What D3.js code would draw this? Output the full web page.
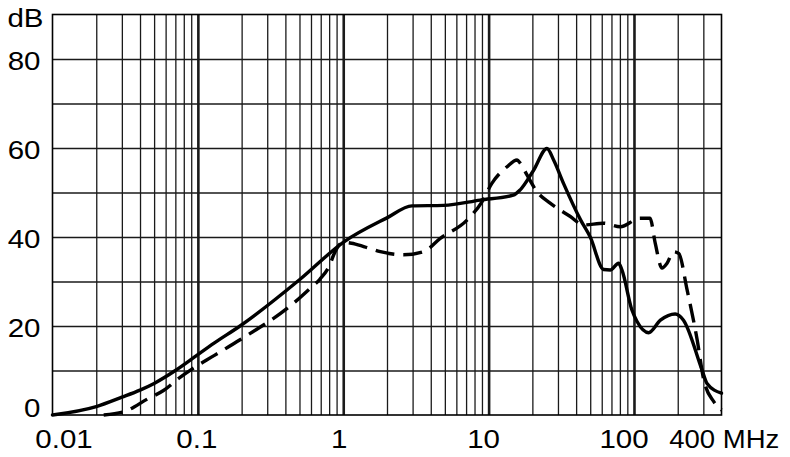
<!DOCTYPE html>
<html><head><meta charset="utf-8">
<script src="https://cdn.jsdelivr.net/npm/d3@7"></script>
<style>
body{margin:0;background:#fff}
svg{display:block}
text{font-family:"Liberation Sans",Arial,Helvetica,sans-serif;font-size:25px;fill:#000}
</style></head>
<body><svg id="c" width="790" height="457"></svg>
<script>
// ---- data ----
const solidF  = [0.01,0.02,0.03,0.04,0.05,0.07,0.09,0.13,0.195,0.505,1.0,2.0,2.97,4.9,8.75,14.8,16.5,20.4,25.2,28,32.8,43,50,61.8,68.7,78.4,82.6,96.8,105,126,152,192,219,294,318,400];
const solidDB = [0,1.9,4.0,5.6,7.1,10,12.5,16.2,20,30.5,38.8,44.3,47,47.1,48.3,49.4,50.6,55,59.9,57.3,52,43.8,40,32.7,32.6,34.1,32.6,23.6,21,18.5,21.3,22.7,21.3,10.1,7.1,4.9];
const dashF   = [0.0225,0.032,0.045,0.058,0.075,0.09,0.13,0.195,0.454,0.607,0.69,0.81,0.86,1.0,1.14,1.4,1.8,2.6,3.57,4.65,7.1,9,10.5,13.4,15.7,16.5,18.4,21.5,26.5,36.5,45,61.8,80.5,110,129,140,156,169,187,203,232,272,302,354,400];
const dashDB  = [0,0.9,3.6,5.5,8.4,10.2,13.4,16.9,25.1,28.8,30.5,33.8,36,38.8,38.6,37.8,36.7,36,36.7,39.7,43.8,47.9,52,55.8,57.3,56.6,53.9,50.2,47.6,44.6,42.7,43.1,42.3,44.2,44.2,38.6,33,34.1,36.7,36.3,28.1,16.9,7.9,3,1.1];
const yTicks = [0,20,40,60,80];
const yTickLabels = ["0","20","40","60","80"];
const xTicks = [0.01,0.1,1,10,100];
const xTickLabels = ["0.01","0.1","1","10","100"];
const xEndTick = 400;
const xEndLabel = "400 MHz";
const yUnit = "dB";
const xDomain = [0.01,400];
const yDomain = [0,90];

// ---- layout ----
const L=52.5,R=721.5,T=14.5,B=415;
const x=d3.scaleLog().domain(xDomain).range([L,R]);
const y=d3.scaleLinear().domain(yDomain).range([B,T]);
const svg=d3.select("#c");

// vertical grid (log)
const minor=[];
for(let e=-2;e<=2;e++){for(let m=1;m<=9;m++){const v=m*Math.pow(10,e);if(v>xDomain[0]*1.0001&&v<xDomain[1]*0.9999)minor.push(+v.toPrecision(6));}}
const isDecade=d=>Math.abs(Math.log10(d)-Math.round(Math.log10(d)))<1e-9;
svg.append("g").attr("transform",`translate(0,${B})`)
  .call(d3.axisBottom(x).tickValues(minor).tickSize(-(B-T)).tickFormat(""))
  .call(g=>g.select(".domain").remove())
  .selectAll("line").attr("stroke","#1a1a1a").attr("stroke-width",d=>isDecade(d)?2.6:1.3);

// horizontal grid
svg.append("g").attr("transform",`translate(${L},0)`)
  .call(d3.axisLeft(y).tickValues(d3.range(10,90,10)).tickSize(-(R-L)).tickFormat(""))
  .call(g=>g.select(".domain").remove())
  .selectAll("line").attr("stroke","#1a1a1a").attr("stroke-width",1.3);

// frame
svg.append("rect").attr("x",L).attr("y",T).attr("width",R-L).attr("height",B-T)
  .attr("fill","none").attr("stroke","#000").attr("stroke-width",1.6);

// curves
const line=d3.line().x(d=>x(d[0])).y(d=>y(d[1])).curve(d3.curveMonotoneX);
svg.append("path").datum(solidF.map((f,i)=>[f,solidDB[i]])).attr("d",line)
  .attr("fill","none").attr("stroke","#000").attr("stroke-width",3.4).attr("stroke-linejoin","round").attr("stroke-linecap","round");
svg.append("path").datum(dashF.map((f,i)=>[f,dashDB[i]])).attr("d",line)
  .attr("fill","none").attr("stroke","#000").attr("stroke-width",3.4).attr("stroke-dasharray","19,9");

// y labels
svg.selectAll("text.yl").data(yTicks).join("text").attr("class","yl")
  .attr("text-anchor","end")
  .attr("transform",d=>`translate(40.5,${y(d)+(d===0?2:11)}) scale(1.18,1)`)
  .text((d,i)=>yTickLabels[i]);
svg.append("text").attr("text-anchor","end")
  .attr("transform","translate(43.5,27) scale(1.18,1)").text(yUnit);

// x labels
const xdx=[11.5,-1,-4,-5,-10];
svg.selectAll("text.xl").data(xTicks).join("text").attr("class","xl")
  .attr("text-anchor","middle")
  .attr("transform",(d,i)=>`translate(${x(d)+xdx[i]},448) scale(1.18,1)`)
  .text((d,i)=>xTickLabels[i]);
svg.append("text").attr("text-anchor","start")
  .attr("transform",`translate(${x(xEndTick)-52.2},448) scale(1.1,1)`).text(xEndLabel);
</script></body></html>
